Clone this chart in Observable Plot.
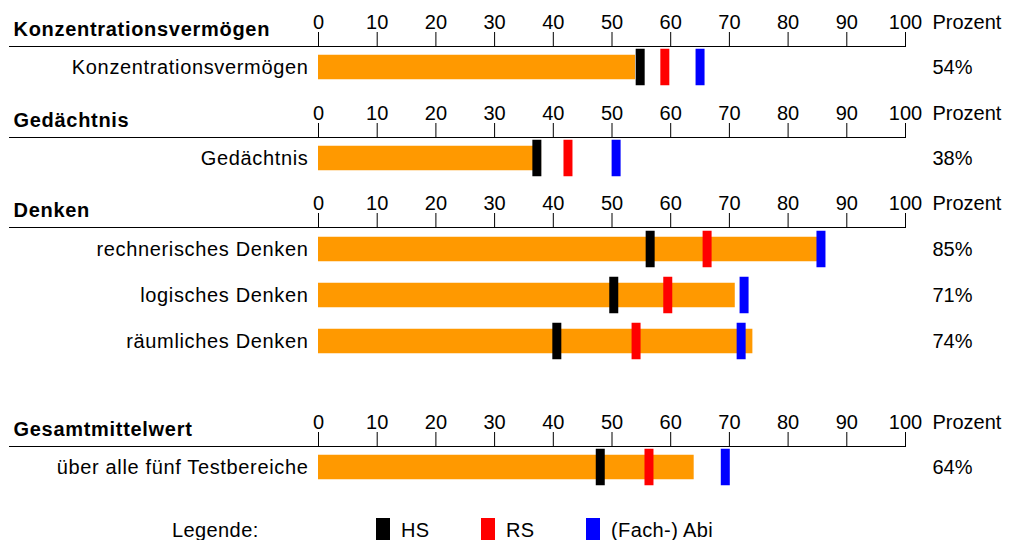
<!DOCTYPE html>
<html>
<head>
<meta charset="utf-8">
<script src="https://cdn.jsdelivr.net/npm/d3@7"></script>
<script src="https://cdn.jsdelivr.net/npm/@observablehq/plot@0.6"></script>
<style>
  body { margin: 0; background: #fff; font-family: "Liberation Sans", Arial, sans-serif; }
  #chart { position: relative; width: 1009px; height: 540px; overflow: hidden; background: #fff; }
  #chart svg { display: block; overflow: visible; }
  #chart g[aria-label="y-axis tick label"] text { letter-spacing: 0.65px; }
  #chart g[font-weight="bold"] text, #chart text[font-weight="bold"] { letter-spacing: 0.7px; }
  .legend { position: absolute; left: 0; top: 518px; width: 1009px; height: 30px; font-size: 20px; line-height: 20px; color: #000; }
  .legend .lt { position: absolute; left: 172px; top: 2px; letter-spacing: 0.4px; }
  .legend .item { position: absolute; top: 0; }
  .legend .sw { position: absolute; left: 0; top: 0; width: 14px; height: 26px; }
  .legend .tx { position: absolute; left: 25px; top: 2px; white-space: nowrap; letter-spacing: 0.4px; }
</style>
</head>
<body>
<div id="chart"></div>
<script>
// ---------------- data ----------------
const sectionTitles = ["Konzentrationsvermögen", "Gedächtnis", "Denken", "Gesamtmittelwert"];
const rowSection   = [0, 1, 2, 2, 2, 3];
const rowLabels    = ["Konzentrationsvermögen", "Gedächtnis", "rechnerisches Denken", "logisches Denken", "räumliches Denken", "über alle fünf Testbereiche"];
const totalValues  = [54, 38, 85, 71, 74, 64];
const hsValues     = [54.8, 37.2, 56.5, 50.3, 40.6, 48.0];
const rsValues     = [59.0, 42.5, 66.2, 59.5, 54.1, 56.3];
const abiValues    = [65.0, 50.7, 85.6, 72.5, 72.0, 69.3];
const groupNames   = ["HS", "RS", "(Fach-) Abi"];
const groupColors  = ["#000000", "#ff0000", "#0000ff"];
const barColor     = "#ff9900";
const xTicks       = [0, 10, 20, 30, 40, 50, 60, 70, 80, 90, 100];
const unitLabel    = "Prozent";
const legendTitle  = "Legende:";

// ---------------- layout (style only) ----------------
const FONT = "'Liberation Sans', Arial, sans-serif";
const sectionHeights = [91, 90, 219, 110];
const rowStep = 46.5;
const legendStarts = [376, 481, 586];

const rows = rowLabels.map((label, i) => ({
  section: rowSection[i], label, total: totalValues[i]
}));
const groupSeries = [hsValues, rsValues, abiValues];
const markers = [];
rowLabels.forEach((label, i) => {
  groupSeries.forEach((vals, g) => {
    markers.push({ section: rowSection[i], label, value: vals[i], group: groupNames[g], color: groupColors[g] });
  });
});

const chart = document.getElementById("chart");

function axisLine(index, scales, values, dims) {
  const y = dims.marginTop + 0.5;
  return d3.create("svg:line")
    .attr("x1", 9).attr("x2", dims.width - dims.marginRight + 0.5)
    .attr("y1", y).attr("y2", y)
    .attr("stroke", "#000").attr("stroke-width", 1)
    .node();
}

sectionTitles.forEach((title, s) => {
  const secRows = rows.filter(d => d.section === s);
  const secMarkers = markers.filter(d => d.section === s);
  const plot = Plot.plot({
    width: 1009,
    height: sectionHeights[s],
    marginLeft: 318,
    marginRight: 104,
    marginTop: 46,
    marginBottom: 0,
    style: { fontFamily: FONT, fontSize: "20px", color: "#000", background: "#fff", overflow: "visible" },
    x: { domain: [0, 100] },
    y: { domain: secRows.map(d => d.label), range: [44, 44 + secRows.length * rowStep], padding: 0 },
    color: { type: "identity" },
    marks: [
      Plot.axisX({ anchor: "top", ticks: xTicks, tickSize: 15, tickPadding: 3, tickFormat: d => String(d), label: null, fontSize: 20 }),
      Plot.axisY({ tickSize: 0, tickPadding: 10, label: null, fontSize: 20 }),
      axisLine,
      Plot.barX(secRows, { x: "total", y: "label", fill: barColor, insetTop: 10.75, insetBottom: 10.75 }),
      Plot.tickX(secMarkers, { x: "value", y: "label", stroke: "color", strokeWidth: 9, insetTop: 4.75, insetBottom: 4.75 }),
      Plot.text(secRows, { y: "label", text: d => d.total + "%", frameAnchor: "right", dx: 27, textAnchor: "start", fontSize: 20 }),
      Plot.text([title], { text: d => d, frameAnchor: "top-left", dx: -305, dy: -11, textAnchor: "start", lineAnchor: "bottom", fontWeight: "bold", fontSize: 20 }),
      Plot.text([unitLabel], { text: d => d, frameAnchor: "top-right", dx: 27, dy: -18, textAnchor: "start", lineAnchor: "bottom", fontSize: 20 })
    ]
  });
  chart.appendChild(plot);
});

// legend
const legend = document.createElement("div");
legend.className = "legend";
const lt = document.createElement("div");
lt.className = "lt";
lt.textContent = legendTitle;
legend.appendChild(lt);
groupNames.forEach((name, g) => {
  const item = document.createElement("div");
  item.className = "item";
  item.style.left = legendStarts[g] + "px";
  const sw = document.createElement("div");
  sw.className = "sw";
  sw.style.background = groupColors[g];
  const tx = document.createElement("div");
  tx.className = "tx";
  tx.textContent = name;
  item.appendChild(sw);
  item.appendChild(tx);
  legend.appendChild(item);
});
chart.appendChild(legend);
</script>
</body>
</html>
